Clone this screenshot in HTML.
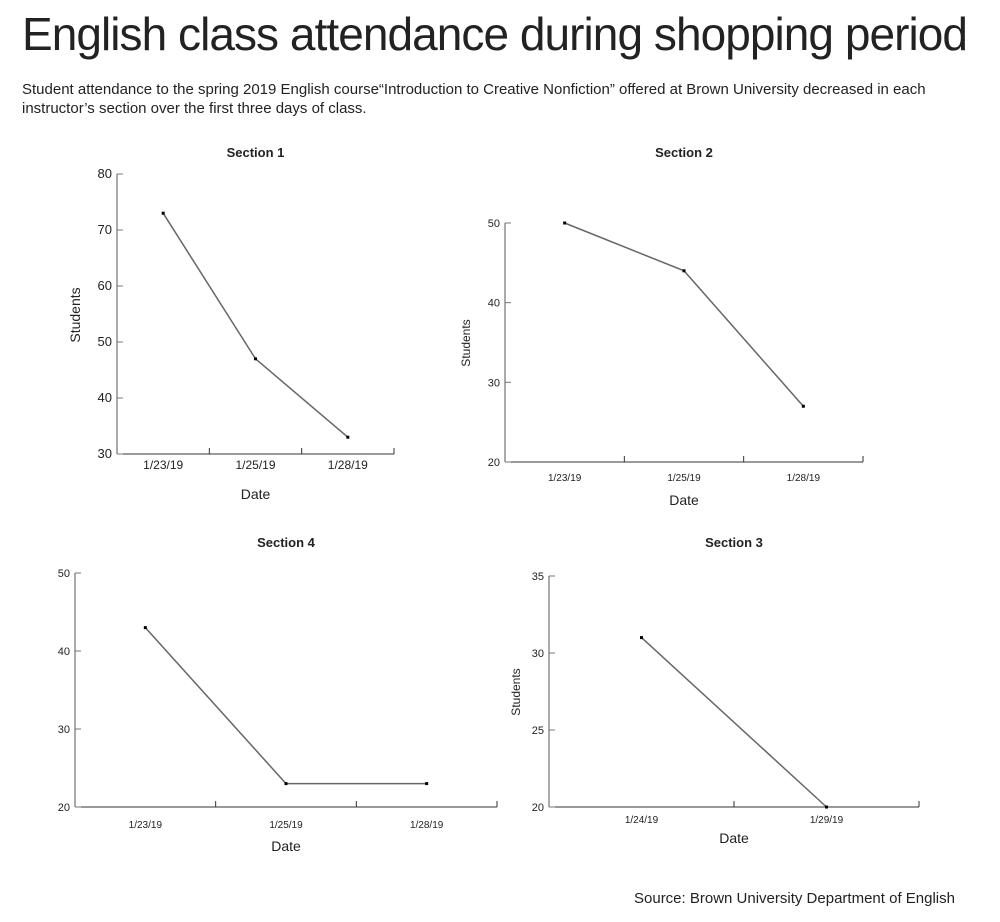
<!DOCTYPE html>
<html><head><meta charset="utf-8"><style>
body{margin:0;background:#fff;width:1000px;height:922px;overflow:hidden;font-family:"Liberation Sans",sans-serif;}
#title{position:absolute;left:22px;top:7px;font-size:46px;color:#222;letter-spacing:-0.95px;margin:0;font-weight:normal;white-space:nowrap}
#sub{position:absolute;left:22px;top:80px;font-size:15px;line-height:19px;color:#222;width:940px;margin:0}
#src{position:absolute;left:634px;top:890px;font-size:15px;color:#222}
svg{position:absolute;left:0;top:0}
</style></head><body>
<h1 id="title">English class attendance during shopping period</h1>
<p id="sub">Student attendance to the spring 2019 English course“Introduction to Creative Nonfiction”  offered at Brown University decreased in each instructor’s section over the first three days of class.</p>
<div id="src">Source: Brown University Department of English</div>
<svg id="svg" width="1000" height="922"></svg>
<script>
const s1Dates=["1/23/19","1/25/19","1/28/19"];
const s1Values=[73,47,33];
const s1Ticks=[30,40,50,60,70,80];
const s2Dates=["1/23/19","1/25/19","1/28/19"];
const s2Values=[50,44,27];
const s2Ticks=[20,30,40,50];
const s4Dates=["1/23/19","1/25/19","1/28/19"];
const s4Values=[43,23,23];
const s4Ticks=[20,30,40,50];
const s3Dates=["1/24/19","1/29/19"];
const s3Values=[31,20];
const s3Ticks=[20,25,30,35];
const NS="http://www.w3.org/2000/svg";
const svg=document.getElementById('svg');
function mk(tag,a,p){const e=document.createElementNS(NS,tag);for(const k in a)e.setAttribute(k,a[k]);(p||svg).appendChild(e);return e;}
function chart(cfg){
  const g=mk('g',{});
  
  
  const n=cfg.dates.length,bw=(cfg.x1-cfg.x0)/n;
  const ymin=cfg.ticks[0],ymax=cfg.ticks[cfg.ticks.length-1];
  const X=i=>cfg.x0+bw*(i+0.5);
  const Y=v=>cfg.yb-(v-ymin)/(ymax-ymin)*(cfg.yb-cfg.yt);
  const t=mk('text',{x:(cfg.x0+cfg.x1)/2,y:cfg.titleY,'text-anchor':'middle','font-size':13,'font-weight':'bold',fill:'#222'},g);t.textContent=cfg.title;
  
  
  mk('line',{x1:cfg.x0,y1:cfg.yt,x2:cfg.x0,y2:cfg.yb,stroke:'#555','stroke-width':1},g);
  mk('line',{x1:cfg.x0,y1:cfg.yb,x2:cfg.x1,y2:cfg.yb,stroke:'#333','stroke-width':1},g);
  cfg.ticks.forEach(v=>{
    mk('line',{x1:cfg.x0,y1:Y(v),x2:cfg.x0+6,y2:Y(v),stroke:'#777'},g);
    const l=mk('text',{x:cfg.x0-5,y:Y(v)+4,'text-anchor':'end','font-size':cfg.fs,fill:'#222'},g);l.textContent=v;
    
    
  });
  for(let i=1;i<=n;i++) mk('line',{x1:cfg.x0+bw*i,y1:cfg.yb-6,x2:cfg.x0+bw*i,y2:cfg.yb,stroke:'#333'},g);
  cfg.dates.forEach((d,i)=>{
    const l=mk('text',{x:X(i),y:cfg.yb+cfg.lblOff,'text-anchor':'middle','font-size':cfg.fs-1,fill:'#222'},g);l.textContent=d;
    
    
  });
  const dl=mk('text',{x:X((n-1)/2),y:cfg.yb+cfg.dateOff,'text-anchor':'middle','font-size':14,fill:'#222'},g);dl.textContent='Date';
  
  
  if(cfg.ylab){const yl=mk('text',{x:cfg.ylab[0],y:cfg.ylab[1],'text-anchor':'middle','font-size':cfg.ylab[2],fill:'#222',transform:`rotate(-90 ${cfg.ylab[0]} ${cfg.ylab[1]})`},g);yl.textContent='Students';
    
    }
  const pts=cfg.values.map((v,i)=>X(i)+','+Y(v)).join(' ');
  const pl=mk('polyline',{points:pts,fill:'none',stroke:'#666','stroke-width':1.5},g);
  
  
  cfg.values.forEach((v,i)=>{const r=mk('rect',{x:X(i)-1.5,y:Y(v)-1.5,width:3,height:3,fill:'#000'},g);
    
    });
}
chart({name:'section-1-chart',title:'Section 1',titleY:157,dates:s1Dates,values:s1Values,ticks:s1Ticks,x0:117,x1:394,yt:174,yb:454,fs:13,lblOff:15,dateOff:45,ylab:[80,315,14]});
chart({name:'section-2-chart',title:'Section 2',titleY:157,dates:s2Dates,values:s2Values,ticks:s2Ticks,x0:505,x1:863,yt:223,yb:462,fs:11,lblOff:19,dateOff:43,ylab:[470,343,12]});
chart({name:'section-4-chart',title:'Section 4',titleY:547,dates:s4Dates,values:s4Values,ticks:s4Ticks,x0:75,x1:497,yt:573,yb:807,fs:11,lblOff:21,dateOff:44,ylab:null});
chart({name:'section-3-chart',title:'Section  3',titleY:547,dates:s3Dates,values:s3Values,ticks:s3Ticks,x0:549,x1:919,yt:576,yb:807,fs:11,lblOff:16,dateOff:36,ylab:[520,692,12]});
</script>
</body></html>
